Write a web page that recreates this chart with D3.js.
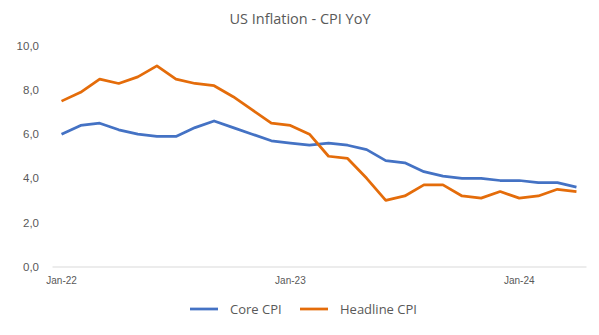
<!DOCTYPE html>
<html>
<head>
<meta charset="utf-8">
<script src="https://cdn.jsdelivr.net/npm/d3@7"></script>
<style>
  body { margin: 0; background: #fff; }
  svg { display: block; font-family: "Open Sans", "Noto Sans", sans-serif; }
</style>
</head>
<body>
<svg id="chart"></svg>
<script>
'use strict';

// data, monthly Jan-22 .. Apr-24
var months = ['Jan-22','Feb-22','Mar-22','Apr-22','May-22','Jun-22','Jul-22','Aug-22','Sep-22','Oct-22','Nov-22','Dec-22',
  'Jan-23','Feb-23','Mar-23','Apr-23','May-23','Jun-23','Jul-23','Aug-23','Sep-23','Oct-23','Nov-23','Dec-23',
  'Jan-24','Feb-24','Mar-24','Apr-24'];
var coreCpi = [6.0, 6.4, 6.5, 6.2, 6.0, 5.9, 5.9, 6.3, 6.6, 6.3, 6.0, 5.7,
  5.6, 5.5, 5.6, 5.5, 5.3, 4.8, 4.7, 4.3, 4.1, 4.0, 4.0, 3.9,
  3.9, 3.8, 3.8, 3.6];
var headlineCpi = [7.5, 7.9, 8.5, 8.3, 8.6, 9.1, 8.5, 8.3, 8.2, 7.7, 7.1, 6.5,
  6.4, 6.0, 5.0, 4.9, 4.0, 3.0, 3.2, 3.7, 3.7, 3.2, 3.1, 3.4,
  3.1, 3.2, 3.5, 3.4];
var xTickLabels = ['Jan-22', 'Jan-23', 'Jan-24'];
var yTicks = [0, 2, 4, 6, 8, 10];
var seriesNames = ['Core CPI', 'Headline CPI'];
var colors = ['#4472C4', '#E46C0A'];

var canvasWidth = 599;
var canvasHeight = 335;
var margin = { top: 46, right: 13, bottom: 68.5, left: 52 };
var width = canvasWidth - margin.left - margin.right;
var height = canvasHeight - margin.top - margin.bottom;

var svg = d3.select('#chart')
  .attr('width', canvasWidth)
  .attr('height', canvasHeight);

// title
svg.append('text')
  .attr('x', 300)
  .attr('y', 24)
  .attr('text-anchor', 'middle')
  .style('font-size', '14.5px')
  .style('fill', '#595959')
  .text('US Inflation - CPI YoY');

var g = svg.append('g')
  .attr('transform', 'translate(' + margin.left + ',' + margin.top + ')');

var xScale = d3.scaleBand().domain(months).range([0, width]);
var yScale = d3.scaleLinear().domain([0, 10]).range([height, 0]);
var xPos = function(m) { return xScale(m) + xScale.bandwidth() / 2; };

// y axis labels (no line)
var yAxis = g.append('g')
  .call(d3.axisLeft(yScale).tickValues(yTicks).tickSize(0).tickPadding(13)
    .tickFormat(function(d) { return d3.format('.1f')(d).replace('.', ','); }));
yAxis.select('.domain').remove();
yAxis.selectAll('text').style('font-size', '11.5px').style('fill', '#595959');

// x axis
var xAxis = g.append('g')
  .attr('transform', 'translate(0,' + height + ')')
  .call(d3.axisBottom(xScale).tickValues(xTickLabels).tickSize(0).tickPadding(10));
xAxis.select('.domain').attr('stroke', '#d9d9d9');
xAxis.selectAll('text').style('font-size', '10px').style('fill', '#595959');

// lines
var line = d3.line()
  .x(function(d, i) { return xPos(months[i]); })
  .y(function(d) { return yScale(d); });

[coreCpi, headlineCpi].forEach(function(vals, k) {
  g.append('path')
    .datum(vals)
    .attr('fill', 'none')
    .attr('stroke', colors[k])
    .attr('stroke-width', 2.75)
    .attr('stroke-linejoin', 'round')
    .attr('d', line);
});

// legend
var legendX = [190, 300];
var legend = svg.append('g');
seriesNames.forEach(function(name, k) {
  legend.append('line')
    .attr('x1', legendX[k]).attr('x2', legendX[k] + 28)
    .attr('y1', 309).attr('y2', 309)
    .attr('stroke', colors[k]).attr('stroke-width', 2.75);
  legend.append('text')
    .attr('x', legendX[k] + 40)
    .attr('y', 314)
    .style('font-size', '13px')
    .style('fill', '#595959')
    .text(name);
});
</script>
</body>
</html>
